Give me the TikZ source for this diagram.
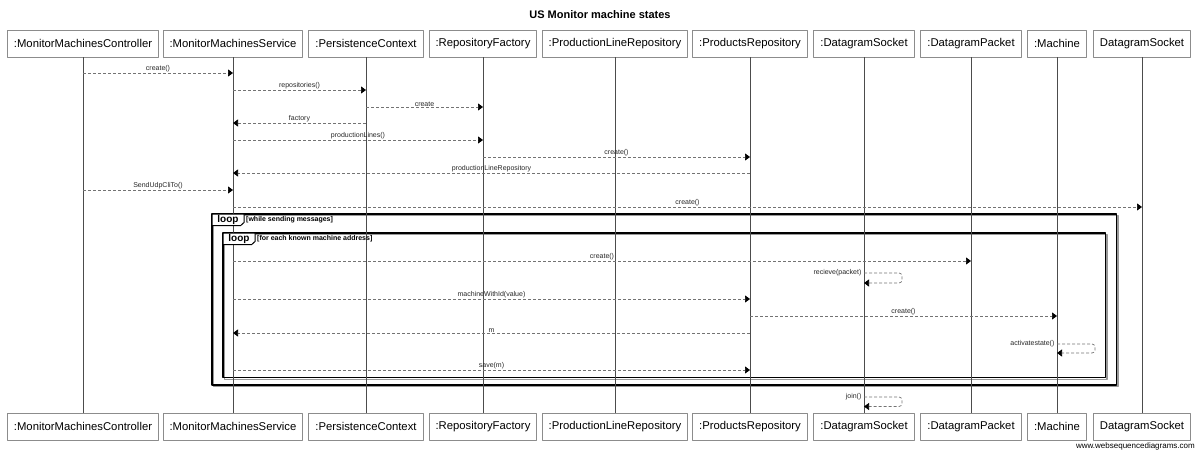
\documentclass[tikz,border=0pt]{standalone}
\usepackage{fontspec}
\setmainfont{Liberation Sans}
\usetikzlibrary{arrows.meta}

\begin{document}
\begin{tikzpicture}[x=1pt, y=-1pt, line join=round,
	actor/.style={draw=black!45, line width=0.9pt, fill=white, minimum height=27pt, inner xsep=6.5pt, font=\fontsize{11.3}{12}\selectfont},
	lifeline/.style={draw=black!70, line width=0.8pt},
	msg/.style={draw=black!55, line width=0.7pt, dash pattern=on 3pt off 2pt, -{Triangle[length=5pt,width=7pt,color=black]}},
	lbl/.style={font=\fontsize{7}{7}\selectfont, text=black!85, inner sep=0.4pt},
	frame/.style={draw=black, line width=1.3pt},
	frameshadow/.style={draw=black!40, line width=1.3pt},
	tab/.style={draw=black, line width=1pt, fill=white},
	tabtext/.style={font=\bfseries\fontsize{10}{10}\selectfont, inner sep=0pt},
	cond/.style={font=\bfseries\fontsize{7}{7}\selectfont, anchor=west, inner sep=0pt}]
	\useasboundingbox (0,0) rectangle (1200,453);
	\node[font=\bfseries\fontsize{11}{11}\selectfont] (title) at (600,15) {US Monitor machine states};
	\draw[frameshadow] (213.6,215.6) rectangle (1118.1,386.6);
	\draw[frame] (212,214) rectangle (1116.5,385);
	\draw[frameshadow] (224.6,234.6) rectangle (1107.1,379.3);
	\draw[frame] (223,233) rectangle (1105.5,377.7);
	\node[actor] (ctrl) at (83,43.5) {:MonitorMachinesController};
	\node[actor] (svc) at (233,43.5) {:MonitorMachinesService};
	\node[actor] (pctx) at (366,43.5) {:PersistenceContext};
	\node[actor] (rfac) at (483,43.5) {:RepositoryFactory};
	\node[actor] (plrepo) at (615,43.5) {:ProductionLineRepository};
	\node[actor] (prepo) at (750,43.5) {:ProductsRepository};
	\node[actor] (dsock) at (864,43.5) {:DatagramSocket};
	\node[actor] (dpack) at (971,43.5) {:DatagramPacket};
	\node[actor] (mach) at (1057,43.5) {:Machine};
	\node[actor] (udpsock) at (1142,43.5) {DatagramSocket};
	\node[actor] (ctrlB) at (83,426.5) {:MonitorMachinesController};
	\node[actor] (svcB) at (233,426.5) {:MonitorMachinesService};
	\node[actor] (pctxB) at (366,426.5) {:PersistenceContext};
	\node[actor] (rfacB) at (483,426.5) {:RepositoryFactory};
	\node[actor] (plrepoB) at (615,426.5) {:ProductionLineRepository};
	\node[actor] (prepoB) at (750,426.5) {:ProductsRepository};
	\node[actor] (dsockB) at (864,426.5) {:DatagramSocket};
	\node[actor] (dpackB) at (971,426.5) {:DatagramPacket};
	\node[actor] (machB) at (1057,426.5) {:Machine};
	\node[actor] (udpsockB) at (1142,426.5) {DatagramSocket};
	\draw[lifeline] (ctrl) -- (ctrlB);
	\draw[lifeline] (svc) -- (svcB);
	\draw[lifeline] (pctx) -- (pctxB);
	\draw[lifeline] (rfac) -- (rfacB);
	\draw[lifeline] (plrepo) -- (plrepoB);
	\draw[lifeline] (prepo) -- (prepoB);
	\draw[lifeline] (dsock) -- (dsockB);
	\draw[lifeline] (dpack) -- (dpackB);
	\draw[lifeline] (mach) -- (machB);
	\draw[lifeline] (udpsock) -- (udpsockB);
	\draw[tab] (212,214) -- (244,214) -- (244,222.5) -- (240.5,225.7) -- (212,225.7) -- cycle;
	\node[tabtext] (outerloop) at (228,220) {loop};
	\node[cond] (outercond) at (246,219.5) {[while sending messages]};
	\draw[tab] (223,233) -- (255,233) -- (255,241.5) -- (251.5,244.7) -- (223,244.7) -- cycle;
	\node[tabtext] (innerloop) at (239,239) {loop};
	\node[cond] (innercond) at (257,238.5) {[for each known machine address]};
	\draw[msg] (ctrl |- 0,73) -- node[lbl, above] (m1) {create()} (svc |- 0,73);
	\draw[msg] (svc |- 0,90) -- node[lbl, above] (m2) {repositories()} (pctx |- 0,90);
	\draw[msg] (pctx |- 0,107) -- node[lbl, above] (m3) {create} (rfac |- 0,107);
	\draw[msg] (pctx |- 0,123) -- node[lbl, above] (m4) {factory} (svc |- 0,123);
	\draw[msg] (svc |- 0,140) -- node[lbl, above] (m5) {productionLines()} (rfac |- 0,140);
	\draw[msg] (rfac |- 0,157) -- node[lbl, above] (m6) {create()} (prepo |- 0,157);
	\draw[msg] (prepo |- 0,173) -- node[lbl, above] (m7) {productionLineRepository} (svc |- 0,173);
	\draw[msg] (ctrl |- 0,190) -- node[lbl, above] (m8) {SendUdpCliTo()} (svc |- 0,190);
	\draw[msg] (svc |- 0,207) -- node[lbl, above] (m9) {create()} (udpsock |- 0,207);
	\draw[msg] (svc |- 0,261) -- node[lbl, above] (m10) {create()} (dpack |- 0,261);
	\draw[msg, rounded corners=3pt] (dsock |- 0,273) -- ++(38,0) -- ++(0,10) -- (dsock |- 0,283);
	\node[lbl, left=2pt] (m11) at (dsock |- 0,272.5) {recieve(packet)};
	\draw[msg] (svc |- 0,299) -- node[lbl, above] (m12) {machineWithId(value)} (prepo |- 0,299);
	\draw[msg] (prepo |- 0,316) -- node[lbl, above] (m13) {create()} (mach |- 0,316);
	\draw[msg] (prepo |- 0,333) -- node[lbl, above] (m14) {m} (svc |- 0,333);
	\draw[msg, rounded corners=3pt] (mach |- 0,344) -- ++(38,0) -- ++(0,9) -- (mach |- 0,353);
	\node[lbl, left=2pt] (m15) at (mach |- 0,343.5) {activatestate()};
	\draw[msg] (svc |- 0,370) -- node[lbl, above] (m16) {save(m)} (prepo |- 0,370);
	\draw[msg, rounded corners=3pt] (dsock |- 0,397) -- ++(38,0) -- ++(0,9.5) -- (dsock |- 0,406.5);
	\node[lbl, left=2pt] (m17) at (dsock |- 0,396.5) {join()};
	\node[font=\fontsize{8}{8}\selectfont, anchor=east, inner sep=0pt] (wsd) at (1195,446.5) {www.websequencediagrams.com};
\end{tikzpicture}
\end{document}
